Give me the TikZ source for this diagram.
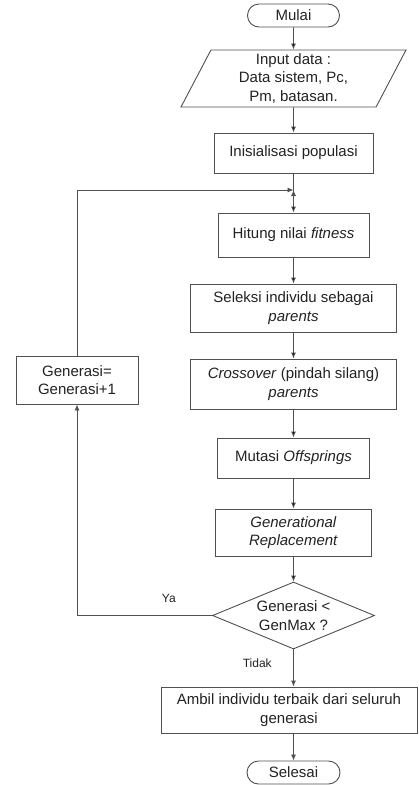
\documentclass[tikz,border=0pt]{standalone}
\usepackage{fontspec}
\setmainfont{Liberation Sans}
\usetikzlibrary{positioning, shapes.geometric, shapes.misc, arrows.meta}

\definecolor{linegray}{HTML}{505050}
\definecolor{textgray}{HTML}{222222}

\tikzset{
    terminal/.style={shape=rounded rectangle, draw=linegray, minimum width=92pt, minimum height=23pt, inner sep=0pt},
    process/.style={shape=rectangle, draw=linegray, align=center, inner sep=0pt},
    inout/.style={shape=trapezium, trapezium left angle=59, trapezium right angle=121, trapezium stretches body, draw=linegray, align=center, inner sep=0pt},
    decision/.style={shape=diamond, aspect=2.42, draw=linegray, align=center, inner sep=0pt},
    small/.style={font=\fontsize{12}{14}\selectfont}
}

\begin{document}
\begin{tikzpicture}[x=1pt, y=-1pt, line width=0.9pt, >={Latex[length=6pt, width=5pt]},
    font=\fontsize{15}{18.5}\selectfont, every node/.style={text=textgray}]
        \useasboundingbox (0,0) rectangle (418,785);

        \node[terminal] (mulai) at (293.5,15.5) {Mulai};
        \node[inout, minimum width=225pt, minimum height=57pt] (input) at (293.5,78.5) {Input data :\\Data sistem, Pc,\\Pm, batasan.};
        \node[process, minimum width=159pt, minimum height=40pt] (init) at (293.5,153) {Inisialisasi populasi};
        \coordinate (join) at (293.5,190);
        \node[process, minimum width=151pt, minimum height=44pt] (hitung) at (293.5,235) {Hitung nilai \textit{fitness}};
        \node[process, minimum width=206pt, minimum height=48pt] (seleksi) at (293.5,308) {Seleksi individu sebagai\\\textit{parents}};
        \node[process, minimum width=206pt, minimum height=50pt] (cross) at (293.5,384) {\textit{Crossover} (pindah silang)\\\textit{parents}};
        \node[process, minimum width=152pt, minimum height=40pt] (mutasi) at (293.5,458) {Mutasi \textit{Offsprings}};
        \node[process, minimum width=156pt, minimum height=47pt] (genrep) at (293.5,532.5) {\textit{Generational}\\\textit{Replacement}};
        \node[decision, minimum width=162pt, minimum height=67pt] (cek) at (293.5,615.5) {Generasi <\\GenMax ?};
        \node[process, minimum width=256pt, minimum height=46pt] (ambil) at (289,710) {Ambil individu terbaik dari seluruh\\generasi};
        \node[terminal, minimum width=93pt] (selesai) at (293.5,772.5) {Selesai};

        \node[process, minimum width=122pt, minimum height=48pt] (gen) at (77,380) {Generasi=\\Generasi+1};

        \path [->, draw=linegray] (mulai) edge (input);
        \path [->, draw=linegray] (input) edge (init);
        \draw [linegray] (init) -- (join);
        \path [->, draw=linegray] (join) edge (hitung);
        \path [->, draw=linegray] (hitung) edge (seleksi);
        \path [->, draw=linegray] (seleksi) edge (cross);
        \path [->, draw=linegray] (cross) edge (mutasi);
        \path [->, draw=linegray] (mutasi) edge (genrep);
        \path [->, draw=linegray] (genrep) edge (cek);
        \draw [->, linegray] (cek.south) -- node[small, left=18pt, pos=0.37] {Tidak} (cek.south |- ambil.north);
        \draw [->, linegray] (ambil.south -| selesai) -- (selesai);

        \draw [->, linegray] (cek.west) -| node[small, above=9pt, pos=0.16] {Ya} (gen.south);
        \draw [->, linegray] (gen.north) |- (join);
    \end{tikzpicture}
\end{document}
